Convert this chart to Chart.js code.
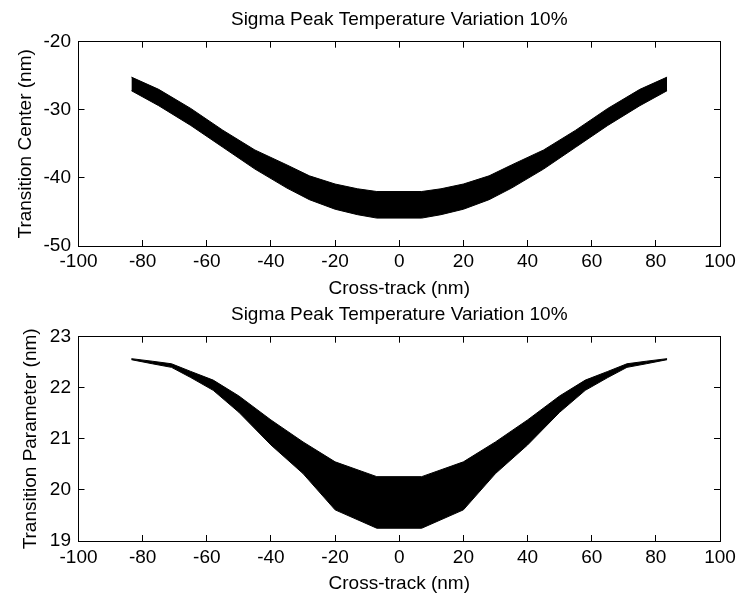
<!DOCTYPE html>
<html>
<head>
<meta charset="utf-8">
<script src="https://cdn.jsdelivr.net/npm/chart.js@4.4.1/dist/chart.umd.min.js"></script>
<style>
  html, body { margin: 0; padding: 0; background: #fff; }
  #wrap { position: relative; width: 738px; height: 596px; background: #fff; }
  #c1 { position: absolute; left: 0; top: 0; }
  #c2 { position: absolute; left: 0; top: 300px; }
</style>
</head>
<body>
<div id="wrap">
  <canvas id="c1" width="738" height="300"></canvas>
  <canvas id="c2" width="738" height="296"></canvas>
</div>
<script>
// ---- Data ----
const chartTitle = "Sigma Peak Temperature Variation 10%";
const xLabel = "Cross-track (nm)";

// Top subplot: Transition Center band
const topX     = [-83.5, -75, -65, -55, -45, -35, -28, -20, -13, -7, 7, 13, 20, 28, 35, 45, 55, 65, 75, 83.5];
const topUpper = [-25.2, -27.0, -29.8, -33.0, -35.9, -38.1, -39.7, -40.9, -41.6, -42.0, -42.0, -41.6, -40.9, -39.7, -38.1, -35.9, -33.0, -29.8, -27.0, -25.2];
const topLower = [-27.2, -29.4, -32.3, -35.5, -38.7, -41.5, -43.2, -44.6, -45.4, -45.9, -45.9, -45.4, -44.6, -43.2, -41.5, -38.7, -35.5, -32.3, -29.4, -27.2];

// Bottom subplot: Transition Parameter band
const botX     = [-83.5, -77, -71, -65, -58, -50, -40, -30, -20, -7, 7, 20, 30, 40, 50, 58, 65, 71, 77, 83.5];
const botUpper = [22.57, 22.52, 22.47, 22.32, 22.15, 21.84, 21.37, 20.94, 20.55, 20.26, 20.26, 20.55, 20.94, 21.37, 21.84, 22.15, 22.32, 22.47, 22.52, 22.57];
const botLower = [22.55, 22.47, 22.40, 22.20, 21.95, 21.52, 20.88, 20.32, 19.61, 19.25, 19.25, 19.61, 20.32, 20.88, 21.52, 21.95, 22.20, 22.40, 22.47, 22.55];

// Axis ranges / ticks
const xTicks = { min: -100, max: 100, step: 20 };
const topY = { min: -50, max: -20, step: 10, label: "Transition Center (nm)" };
const botY = { min: 19, max: 23, step: 1, label: "Transition Parameter (nm)" };

// ---- Chart setup ----
Chart.defaults.font.family = "'Liberation Sans', Arial, sans-serif";
Chart.defaults.font.size = 19;
Chart.defaults.color = "#000";

function pts(xs, ys) { return xs.map((x, i) => ({ x: x, y: ys[i] })); }

function makeChart(canvasId, xs, upper, lower, yCfg, L) {
  const tickLen = -6;
  return new Chart(document.getElementById(canvasId), {
    type: 'line',
    data: {
      datasets: [
        { data: pts(xs, upper), borderColor: '#000', backgroundColor: '#000', borderWidth: 1,
          pointRadius: 0, tension: 0, fill: '+1' },
        { data: pts(xs, lower), borderColor: '#000', backgroundColor: '#000', borderWidth: 1,
          pointRadius: 0, tension: 0, fill: false }
      ]
    },
    options: {
      responsive: false,
      animation: false,
      devicePixelRatio: 1,
      layout: { padding: 0 },
      plugins: {
        legend: { display: false },
        tooltip: { enabled: false },
        title: {
          display: true, text: chartTitle, color: '#000', fullSize: false,
          font: { size: 19, weight: 'normal' },
          padding: { top: L.titleTop, bottom: L.titleBottom }
        }
      },
      scales: {
        x: {
          type: 'linear', position: 'bottom',
          min: xTicks.min, max: xTicks.max,
          ticks: { stepSize: xTicks.step, autoSkip: false, maxRotation: 0, padding: L.xTickPad, color: '#000', font: { size: 19 } },
          grid: { drawOnChartArea: false, drawTicks: true, tickLength: tickLen, color: '#000', lineWidth: 1 },
          border: { display: true, color: '#000', width: 1 },
          title: { display: true, text: xLabel, color: '#000', font: { size: 19 }, padding: { top: 0, bottom: L.xTitleBottom } },
          afterFit: (s) => { s.height = L.xHeight; s.paddingLeft = 0; s.paddingRight = 0; }
        },
        x2: {
          type: 'linear', position: 'top',
          min: xTicks.min, max: xTicks.max,
          ticks: { stepSize: xTicks.step, display: false, autoSkip: false },
          grid: { drawOnChartArea: false, drawTicks: true, tickLength: tickLen, color: '#000', lineWidth: 1 },
          border: { display: true, color: '#000', width: 1 },
          afterFit: (s) => { s.height = 0; s.paddingLeft = 0; s.paddingRight = 0; }
        },
        y: {
          type: 'linear', position: 'left',
          min: yCfg.min, max: yCfg.max,
          ticks: { stepSize: yCfg.step, padding: 13.5, color: '#000', font: { size: 19 } },
          grid: { drawOnChartArea: false, drawTicks: true, tickLength: tickLen, color: '#000', lineWidth: 1 },
          border: { display: true, color: '#000', width: 1 },
          title: { display: true, text: yCfg.label, color: '#000', font: { size: 19 }, padding: { top: L.yTitleTop, bottom: 0 } },
          afterFit: (s) => { s.width = 78.5; s.paddingTop = 0; s.paddingBottom = 0; }
        },
        y2: {
          type: 'linear', position: 'right',
          min: yCfg.min, max: yCfg.max,
          ticks: { stepSize: yCfg.step, display: false },
          grid: { drawOnChartArea: false, drawTicks: true, tickLength: tickLen, color: '#000', lineWidth: 1 },
          border: { display: true, color: '#000', width: 1 },
          afterFit: (s) => { s.width = 18; s.paddingTop = 0; s.paddingBottom = 0; }
        }
      }
    }
  });
}

makeChart('c1', topX, topUpper, topLower, topY,
  { titleTop: 8.6, titleBottom: 10.3, xTickPad: 10.3, xTitleBottom: 0.3, xHeight: 54, yTitleTop: 14.6 });
makeChart('c2', botX, botUpper, botLower, botY,
  { titleTop: 3.6, titleBottom: 10.3, xTickPad: 11.6, xTitleBottom: 1.3, xHeight: 55, yTitleTop: 19.6 });
</script>
</body>
</html>
